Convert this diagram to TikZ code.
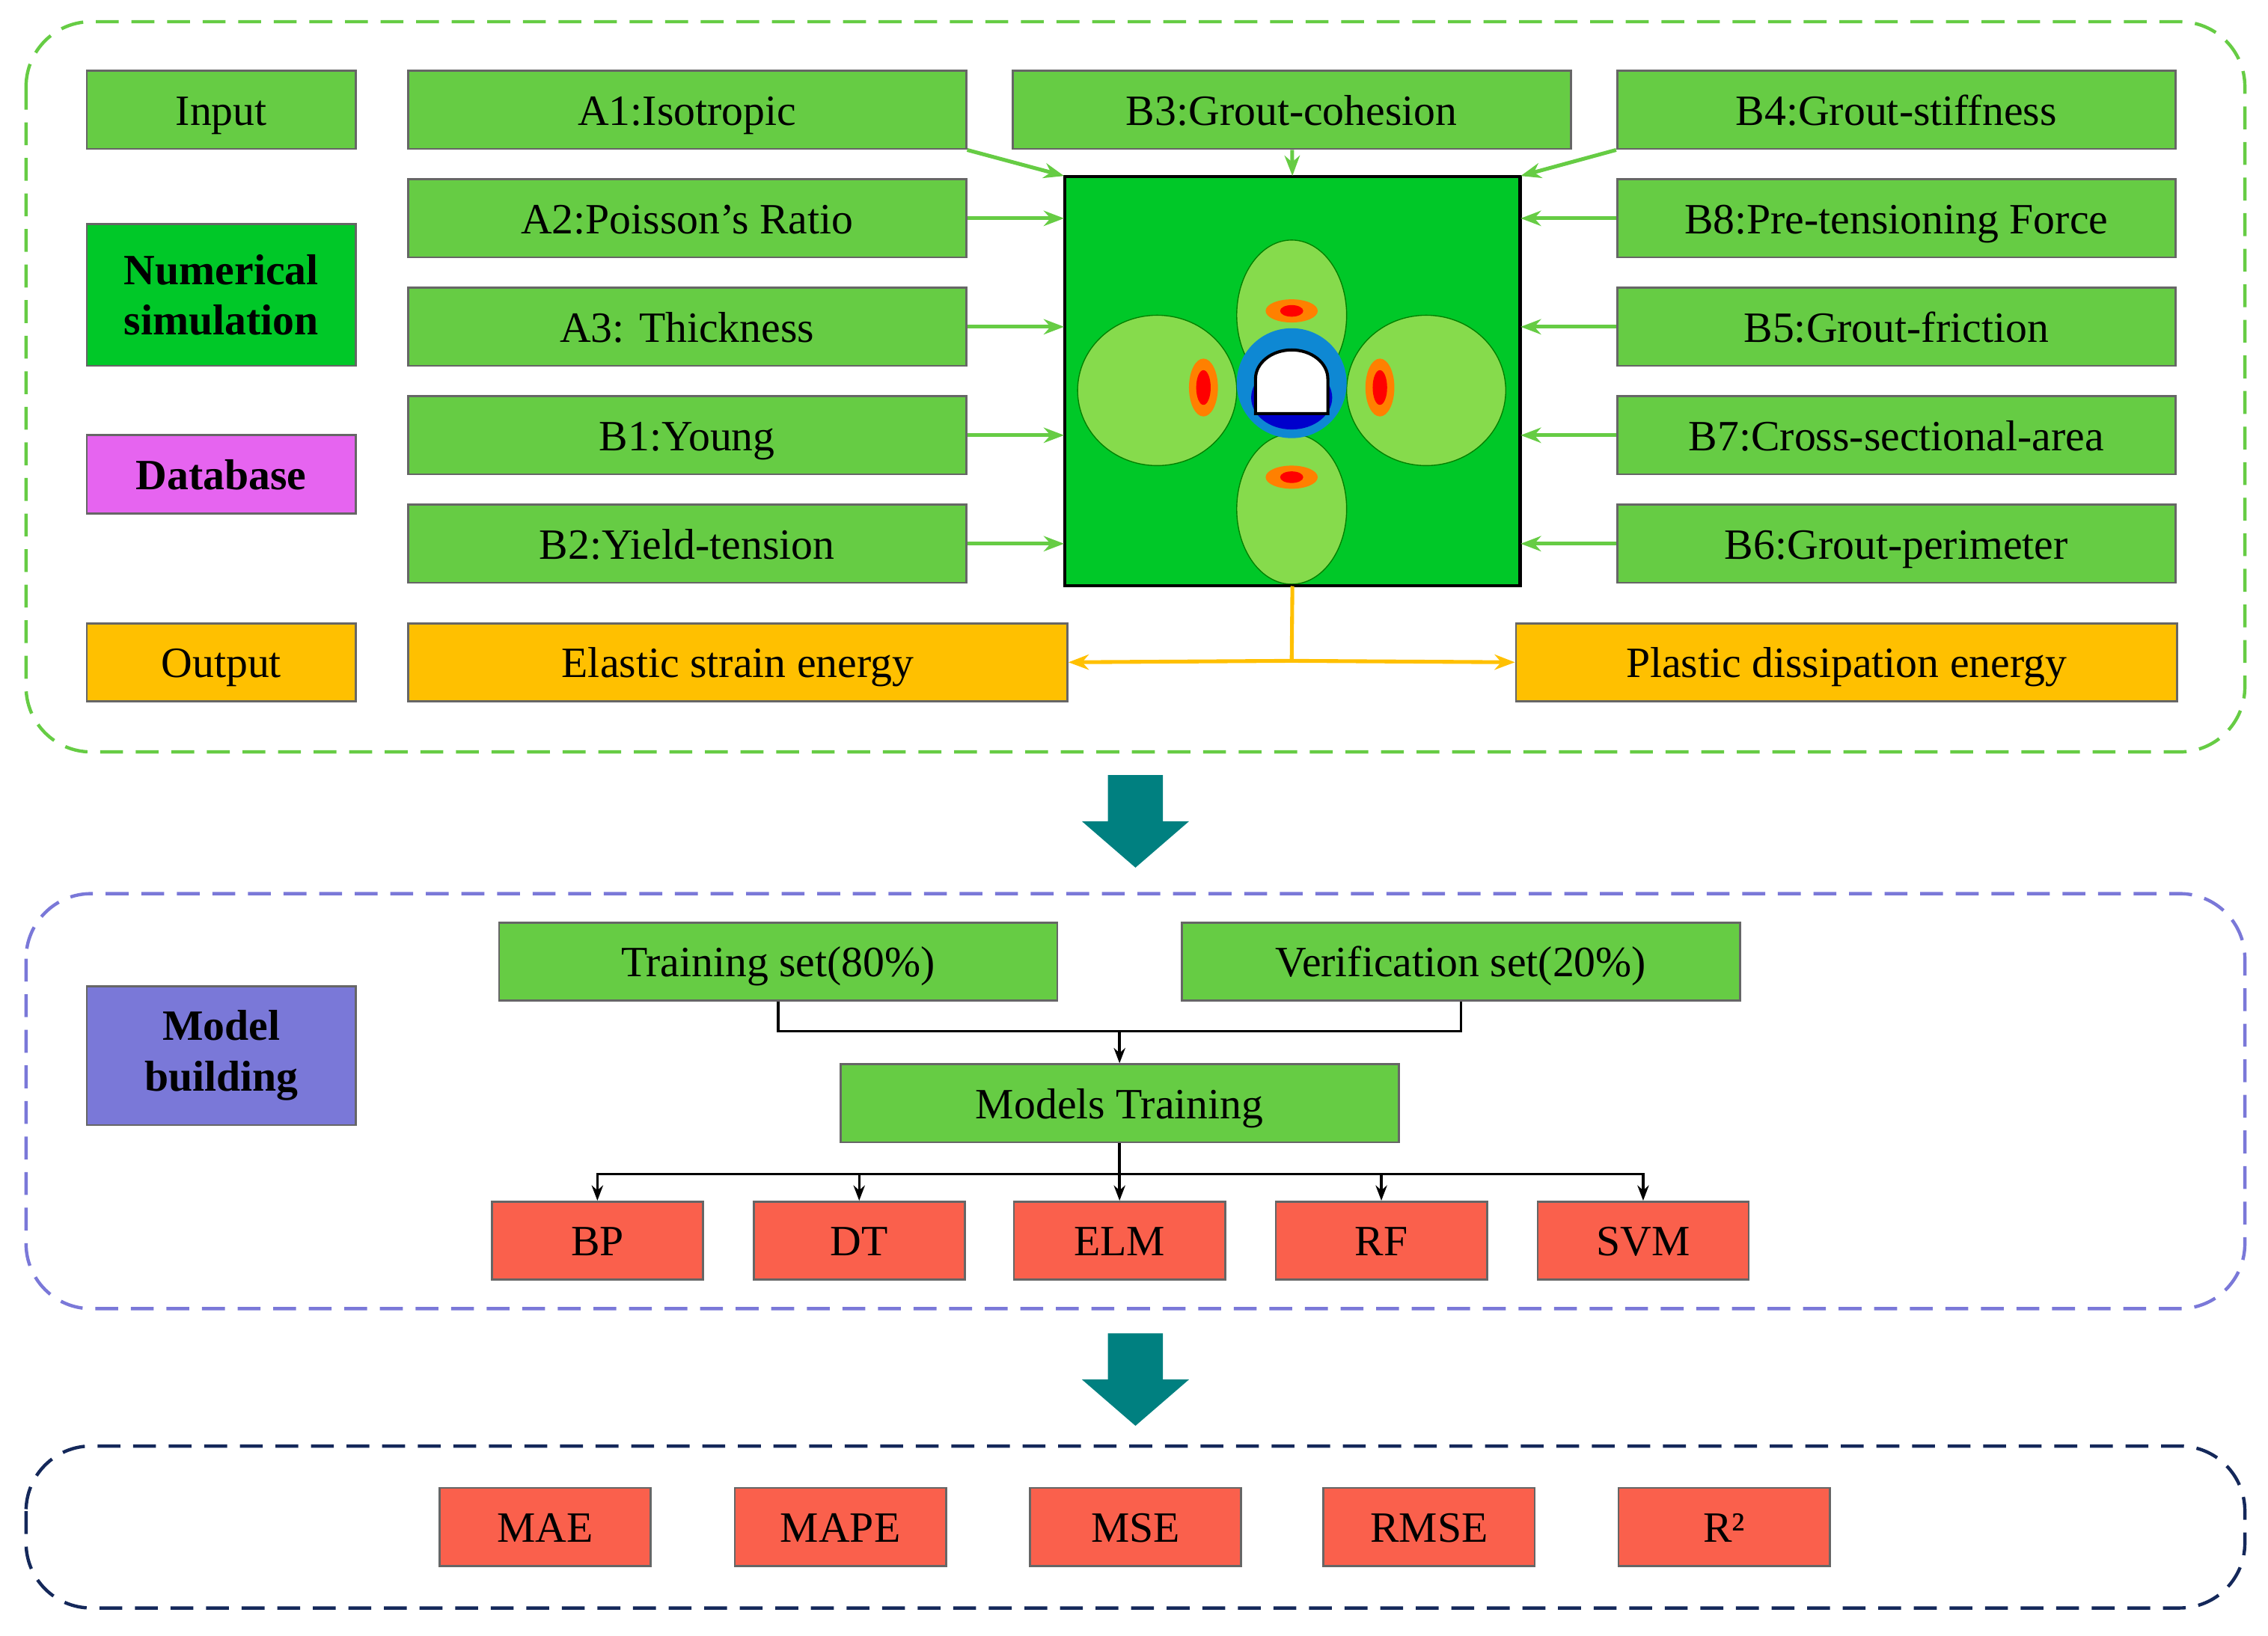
\documentclass[tikz,border=0pt]{standalone}
\usepackage{fontspec}
\setmainfont{Liberation Serif}
\usetikzlibrary{arrows.meta}
\definecolor{boxgreen}{RGB}{102,204,68}
\definecolor{simgreen}{RGB}{0,200,40}
\definecolor{dbpink}{RGB}{230,100,240}
\definecolor{outorange}{RGB}{255,192,0}
\definecolor{mbpurple}{RGB}{122,120,216}
\definecolor{redbox}{RGB}{250,96,76}
\definecolor{teal2}{RGB}{0,128,128}
\definecolor{navy2}{RGB}{20,40,90}
\tikzset{
  box/.style={draw=black!60, line width=0.8pt, minimum height=1.08cm, inner sep=0pt,
    text height=14pt, text depth=2pt, font=\fontsize{17}{19}\selectfont},
  twoline/.style={text height=, text depth=, align=center, font=\fontsize{17}{20}\selectfont\bfseries},
  gbox/.style={box, fill=boxgreen, minimum width=7.72cm},
  sbox/.style={box, minimum width=3.72cm},
  rbox/.style={box, fill=redbox, minimum width=2.92cm},
  frame/.style={dashed, rounded corners=0.9cm, line width=1.3pt, dash pattern=on 9pt off 5pt},
  garrow/.style={-{Stealth[length=8pt]}, boxgreen, line width=1.5pt},
  oarrow/.style={-{Stealth[length=8pt]}, outorange, line width=1.5pt},
  karrow/.style={-{Stealth[length=6pt]}, black, line width=1pt},
  bigarrow/.style={fill=teal2, draw=none}
}
\begin{document}
\begin{tikzpicture}[x=0.02cm, y=-0.02cm]
\useasboundingbox (0,0) rectangle (1568,1131);
% frames
\draw[frame, boxgreen] (18,15) rectangle (1552,520);
\draw[frame, mbpurple] (18,618) rectangle (1552,905);
\draw[frame, navy2] (18,1000) rectangle (1552,1112);
% left labels
\node[sbox, fill=boxgreen] (input) at (153,76) {Input};
\node[sbox, fill=simgreen, minimum height=1.96cm, twoline] (numsim) at (153,204) {Numerical\\simulation};
\node[sbox, fill=dbpink, font=\fontsize{17}{19}\selectfont\bfseries] (db) at (153,328) {Database};
\node[sbox, fill=outorange] (output) at (153,458) {Output};
% simulation picture
\begin{scope}
  \fill[simgreen] (736,122) rectangle (1051,405);
  \fill[green!60!yellow!80!black!70!white, draw=green!50!black, thin] (893,218) ellipse (38 and 52);
  \fill[green!60!yellow!80!black!70!white, draw=green!50!black, thin] (893,352) ellipse (38 and 52);
  \fill[green!60!yellow!80!black!70!white, draw=green!50!black, thin] (800,270) ellipse (55 and 52);
  \fill[green!60!yellow!80!black!70!white, draw=green!50!black, thin] (986,270) ellipse (55 and 52);
  \fill[orange] (893,215) ellipse (18 and 8);
  \fill[orange] (893,330) ellipse (18 and 8);
  \fill[orange] (832,268) ellipse (10 and 20);
  \fill[orange] (954,268) ellipse (10 and 20);
  \fill[red] (893,215) ellipse (8 and 4);
  \fill[red] (893,330) ellipse (8 and 4);
  \fill[red] (832,268) ellipse (5 and 12);
  \fill[red] (954,268) ellipse (5 and 12);
  \fill[cyan!70!blue] (893,265) circle (38);
  \fill[blue!80!black] (893,275) ellipse (28 and 22);
  \fill[white, draw=black, line width=1.2pt] (868,286) -- (868,262) arc (180:360:25 and 20) -- (918,286) -- cycle;
  \draw[line width=1.3pt] (736,122) rectangle (1051,405);
\end{scope}
\node[inner sep=0pt, minimum width=6.3cm, minimum height=5.66cm] (sim) at (893.5,263.5) {};
% input boxes
\node[gbox] (a1) at (475,76) {A1:Isotropic};
\node[gbox] (a2) at (475,151) {A2:Poisson’s Ratio};
\node[gbox] (a3) at (475,226) {A3: Thickness};
\node[gbox] (b1) at (475,301) {B1:Young};
\node[gbox] (b2) at (475,376) {B2:Yield-tension};
\node[gbox] (b3) at (893,76) {B3:Grout-cohesion};
\node[gbox] (b4) at (1311,76) {B4:Grout-stiffness};
\node[gbox] (b8) at (1311,151) {B8:Pre-tensioning Force};
\node[gbox] (b5) at (1311,226) {B5:Grout-friction};
\node[gbox] (b7) at (1311,301) {B7:Cross-sectional-area};
\node[gbox] (b6) at (1311,376) {B6:Grout-perimeter};
\node[box, fill=outorange, minimum width=9.12cm] (elastic) at (510,458) {Elastic strain energy};
\node[box, fill=outorange, minimum width=9.14cm] (plastic) at (1276.5,458) {Plastic dissipation energy};
% input arrows
\draw[garrow] (a1.south east) -- (sim.north west);
\foreach \n in {a2,a3,b1,b2} \draw[garrow] (\n.east) -- (\n.east -| sim.west);
\draw[garrow] (b3) -- (sim.north);
\draw[garrow] (b4.south west) -- (sim.north east);
\foreach \n in {b8,b5,b7,b6} \draw[garrow] (\n.west) -- (\n.west -| sim.east);
\coordinate (split) at (893,457);
\draw[outorange, line width=1.5pt] (sim.south) -- (split);
\draw[oarrow] (split) -- (elastic.east);
\draw[oarrow] (split) -- (plastic.west);
% big arrows
\fill[bigarrow] (766,536) -- (804,536) -- (804,568) -- (822,568) -- (785,600) -- (748,568) -- (766,568) -- cycle;
\fill[bigarrow] (766,922) -- (804,922) -- (804,954) -- (822,954) -- (785,986) -- (748,954) -- (766,954) -- cycle;
% model building
\node[sbox, fill=mbpurple, minimum height=1.92cm, twoline] (mb) at (153,730) {Model\\building};
\node[gbox] (train) at (538,665) {Training set(80\%)};
\node[gbox] (verif) at (1010,665) {Verification set(20\%)};
\node[gbox] (mt) at (774,763) {Models Training};
\coordinate (join) at (774,713);
\draw[black, line width=1pt] (train.south) |- (join) -| (verif.south);
\draw[karrow] (join) -- (mt.north);
\node[rbox] (bp) at (413,858) {BP};
\node[rbox] (dt) at (594,858) {DT};
\node[rbox] (elm) at (774,858) {ELM};
\node[rbox] (rf) at (955,858) {RF};
\node[rbox] (svm) at (1136,858) {SVM};
\coordinate (fork) at (774,812);
\draw[black, line width=1pt] (mt.south) -- (fork);
\foreach \n in {bp,dt,elm,rf,svm} \draw[karrow] (fork) -| (\n.north);
% metrics
\node[rbox] (mae) at (377,1056) {MAE};
\node[rbox] (mape) at (581,1056) {MAPE};
\node[rbox] (mse) at (785,1056) {MSE};
\node[rbox] (rmse) at (988,1056) {RMSE};
\node[rbox] (r2) at (1192,1056) {R²};
\end{tikzpicture}
\end{document}
